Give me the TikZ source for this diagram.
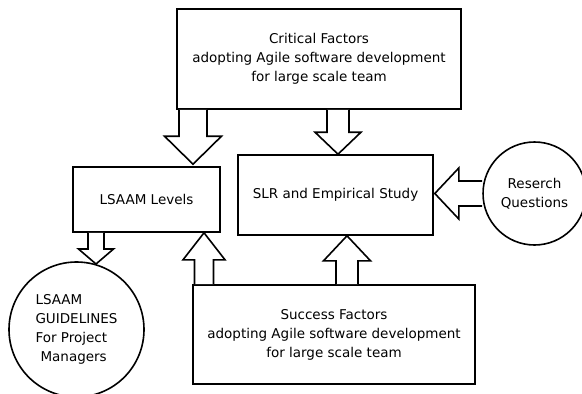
\documentclass[tikz,border=0pt]{standalone}
\usepackage{fontspec}
\setmainfont{DejaVu Sans}
\usetikzlibrary{calc}
\tikzset{
  box/.style={draw, line width=1.6pt, rectangle, inner sep=0pt, align=center,
    font=\fontsize{13.5}{19}\selectfont},
  circ/.style={draw, line width=1.6pt, circle, inner sep=0pt,
    font=\fontsize{13.5}{19}\selectfont},
  fatarrowstyle/.style={draw, line width=1.6pt, fill=white, line join=miter}
}
\newcommand{\fatarrow}[5]{%
  \coordinate (fa-b) at ($(#2)!#5pt!(#1)$);
  \draw[fatarrowstyle]
    ($(#1)!#3pt!90:(#2)$) -- ($(fa-b)!#3pt!90:(#2)$) -- ($(fa-b)!#4pt!90:(#2)$)
    -- (#2) -- ($(fa-b)!#4pt!-90:(#2)$) -- ($(fa-b)!#3pt!-90:(#2)$)
    -- ($(#1)!#3pt!-90:(#2)$);
}
\begin{document}
\begin{tikzpicture}[x=1pt, y=-1pt]
\useasboundingbox (0,0) rectangle (582,394);
\begin{scope}
\clip (0,0) rectangle (582,394);
\node[box, minimum width=284pt, minimum height=100pt] (crit) at (319,59)
  {Critical Factors\\adopting Agile software development\\for large scale team};
\node[box, minimum width=147pt, minimum height=65pt] (lsaam) at (146.5,199.5) {LSAAM Levels};
\node[box, minimum width=195pt, minimum height=80pt] (slr) at (335.5,195) {SLR and Empirical Study};
\node[box, minimum width=282pt, minimum height=99pt] (succ) at (334,334.5)
  {Success Factors\\adopting Agile software development\\for large scale team};
\node[circ, minimum size=103pt, align=center] (rq) at (534.5,193.5) {Reserch\\Questions};
\node[circ, minimum size=135pt, align=left] (guide) at (76.5,329.5)
  {LSAAM\\GUIDELINES\\For Project\\\hspace*{5pt}Managers};

\coordinate (a1s) at (193,0 |- crit.south);
\coordinate (a1e) at ($(a1s |- lsaam.north)+(0,-2)$);
\fatarrow{a1s}{a1e}{14}{28.5}{28}
\coordinate (a2s) at (338,0 |- crit.south);
\coordinate (a2e) at (a2s |- slr.north);
\fatarrow{a2s}{a2e}{11}{23}{22}
\coordinate (a3s) at (rq.west);
\coordinate (a3e) at ($(slr.east |- rq.west)+(1,0)$);
\fatarrow{a3s}{a3e}{12.5}{25.5}{24}
\coordinate (a4s) at (96,0 |- lsaam.south);
\coordinate (a4e) at (96,264);
\fatarrow{a4s}{a4e}{8}{17.5}{15}
\coordinate (a5s) at (204,0 |- succ.north);
\coordinate (a5e) at (a5s |- lsaam.south);
\fatarrow{a5s}{a5e}{9.5}{21}{27}
\coordinate (a6s) at (347,0 |- succ.north);
\coordinate (a6e) at (a6s |- slr.south);
\fatarrow{a6s}{a6e}{11}{23.5}{25}
\end{scope}
\end{tikzpicture}
\end{document}
